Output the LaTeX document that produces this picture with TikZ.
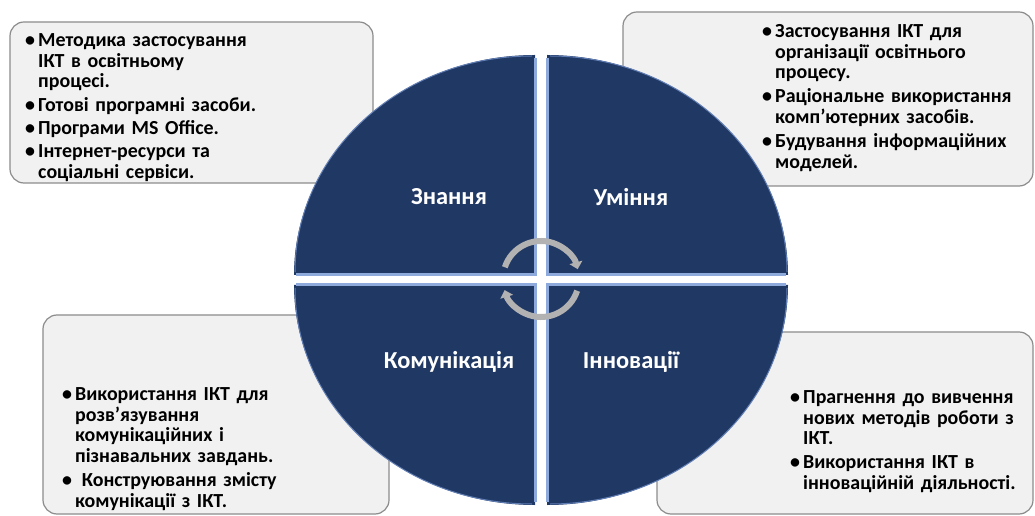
\documentclass[tikz,border=0pt]{standalone}
\usepackage{fontspec}
\setmainfont{Carlito}
\usetikzlibrary{arrows.meta}
\definecolor{navy}{RGB}{32,56,100}
\definecolor{edgeblue}{RGB}{142,169,219}
\definecolor{rimblue}{RGB}{96,125,180}
\definecolor{boxfill}{RGB}{241,241,241}
\definecolor{boxline}{RGB}{140,140,140}
\definecolor{cyclegray}{RGB}{178,178,178}
% bullet item, lines broken by hand
\newcommand{\blt}[1]{\par\noindent\makebox[13bp][l]{\textbullet}\parbox[t]{280bp}{\strut#1\strut}\par\vspace{2bp}}
\begin{document}
\begin{tikzpicture}[x=1bp, y=-1bp,
  infobox/.style={draw=boxline, line width=1.2bp, fill=boxfill, rounded corners=14bp, inner sep=0},
  infotext/.style={anchor=north west, inner sep=0, text width=300bp, font=\bfseries\fontsize{20}{21}\selectfont},
  quad/.style={fill=navy},
  seam/.style={draw=edgeblue, line width=3bp},
  rim/.style={draw=rimblue, line width=1bp},
  label/.style={text=white, font=\bfseries\fontsize{24.5}{28}\selectfont},
  cycle/.style={draw=cyclegray, line width=6bp, -{Triangle[length=7bp, width=13bp]}}]
\useasboundingbox (0,0) rectangle (1035,516);

% boxes behind the circle
\node[infobox, minimum width=363bp, minimum height=161bp] (kbox) at (191.5,102.5) {};
\node[infobox, minimum width=410bp, minimum height=174bp] (sbox) at (828,99) {};
\node[infobox, minimum width=346bp, minimum height=199bp] (cbox) at (216,414.5) {};
\node[infobox, minimum width=376bp, minimum height=182bp] (ibox) at (845,423) {};

\node[infotext] (ktext) at (25,25) {%
\blt{Методика застосування\\ІКТ в освітньому\\процесі.}
\blt{Готові програмні засоби.}
\blt{Програми MS Office.}
\blt{Інтернет-ресурси та\\соціальні сервіси.}};
\node[infotext] (stext) at (762,16) {%
\blt{Застосування ІКТ для\\організації освітнього\\процесу.}
\blt{Раціональне використання\\комп’ютерних засобів.}
\blt{Будування інформаційних\\моделей.}};
\node[infotext] (ctext) at (62,379) {%
\blt{Використання ІКТ для\\розв’язування\\комунікаційних і\\пізнавальних завдань.}
\blt{\ Конструювання змісту\\комунікації з ІКТ.}};
\node[infotext] (itext) at (790,382) {%
\blt{Прагнення до вивчення\\нових методів роботи з\\ІКТ.}
\blt{Використання ІКТ в\\інноваційній діяльності.}};

% four quarters
\fill[quad] (535,275) -- ++(-241,0) arc[start angle=180, end angle=270, x radius=241, y radius=220] -- cycle;
\fill[quad] (547,275) -- ++(241,0) arc[start angle=0, end angle=-90, x radius=241, y radius=220] -- cycle;
\fill[quad] (535,285) -- ++(-241,0) arc[start angle=180, end angle=90, x radius=241, y radius=220] -- cycle;
\fill[quad] (547,285) -- ++(241,0) arc[start angle=0, end angle=90, x radius=241, y radius=220] -- cycle;

\draw[rim] (532,272) ++(-237,0) arc[start angle=180, end angle=270, x radius=237, y radius=216];
\draw[rim] (550,272) ++(237,0) arc[start angle=0, end angle=-90, x radius=237, y radius=216];
\draw[rim] (532,288) ++(-237,0) arc[start angle=180, end angle=90, x radius=237, y radius=216];
\draw[rim] (550,288) ++(237,0) arc[start angle=0, end angle=90, x radius=237, y radius=216];

\draw[seam] (535,58) -- (535,275) -- (296,275);
\draw[seam] (547,58) -- (547,275) -- (786,275);
\draw[seam] (535,502) -- (535,285) -- (296,285);
\draw[seam] (547,502) -- (547,285) -- (786,285);

\node[label] (know) at (449,197) {Знання};
\node[label] (skill) at (631,197) {Уміння};
\node[label] (comm) at (449,362) {Комунікація};
\node[label] (innov) at (631,362) {Інновації};

% circular arrows in the middle
\coordinate (mid) at (541,279);
\draw[cycle] (mid) ++(198:38) arc[start angle=198, end angle=345, radius=38];
\draw[cycle] (mid) ++(18:38) arc[start angle=18, end angle=163, radius=38];
\end{tikzpicture}
\end{document}
